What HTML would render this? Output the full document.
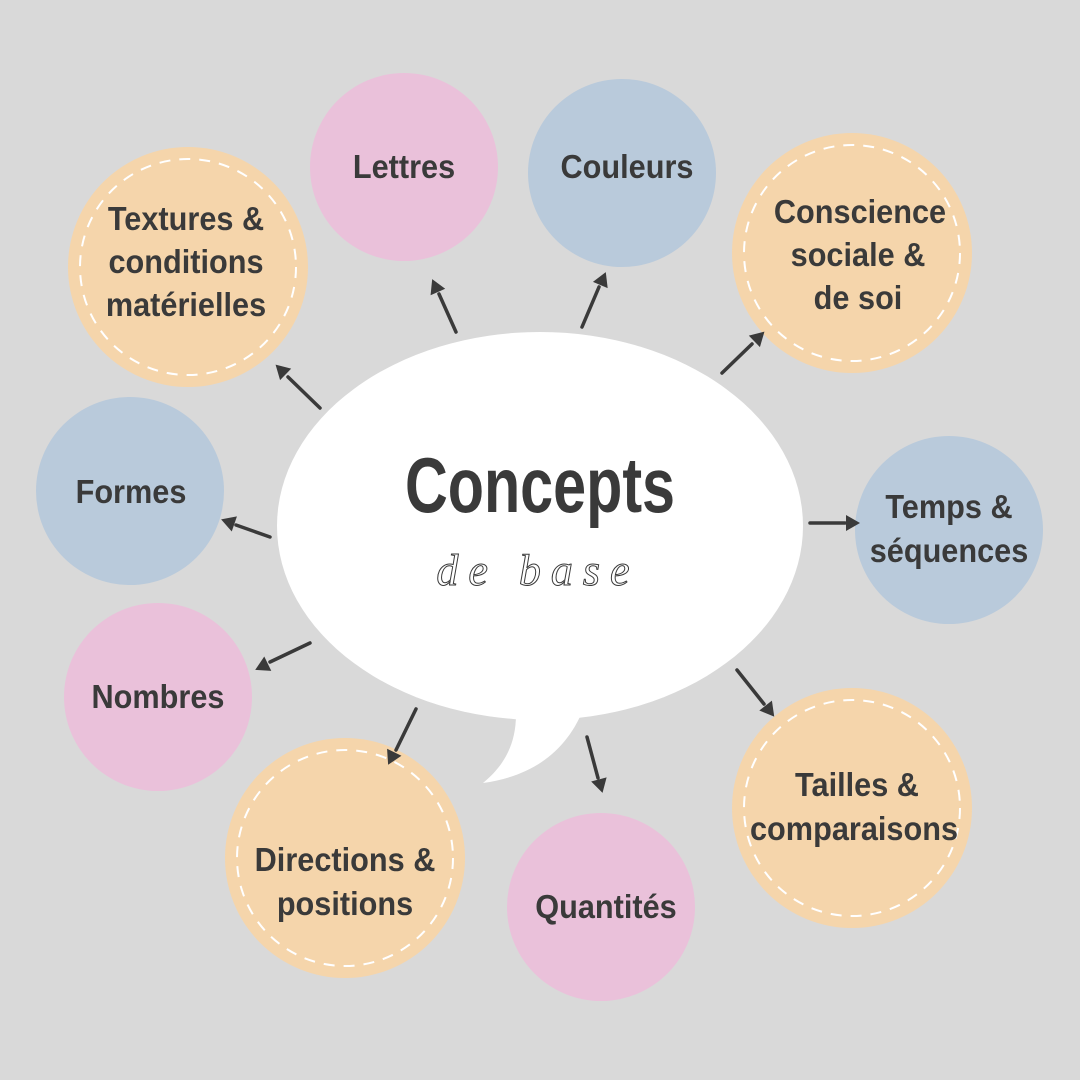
<!DOCTYPE html>
<html><head><meta charset="utf-8"><style>
html,body{margin:0;padding:0;background:#d9d9d9}
svg{display:block}
.t{font-family:"Liberation Sans",sans-serif;font-weight:bold;font-size:33px;fill:#3a3a3a;text-anchor:middle}
</style></head><body>
<svg width="1080" height="1080" viewBox="0 0 1080 1080" xmlns="http://www.w3.org/2000/svg">
<rect width="1080" height="1080" fill="#d9d9d9"/>
<ellipse cx="540" cy="526" rx="263" ry="194" fill="#fff"/>
<path d="M515,700 C520,740 505,765 483,783 C540,775 570,745 585,705 Z" fill="#fff"/>
<circle cx="404" cy="167" r="94" fill="#eac1da"/>
<circle cx="622" cy="173" r="94" fill="#b9cadb"/>
<circle cx="188" cy="267" r="120" fill="#f5d5ab"/>
<circle cx="188" cy="267" r="108" fill="none" stroke="#fff" stroke-width="2" stroke-dasharray="11 9"/>
<circle cx="852" cy="253" r="120" fill="#f5d5ab"/>
<circle cx="852" cy="253" r="108" fill="none" stroke="#fff" stroke-width="2" stroke-dasharray="11 9"/>
<circle cx="130" cy="491" r="94" fill="#b9cadb"/>
<circle cx="949" cy="530" r="94" fill="#b9cadb"/>
<circle cx="158" cy="697" r="94" fill="#eac1da"/>
<circle cx="852" cy="808" r="120" fill="#f5d5ab"/>
<circle cx="852" cy="808" r="108" fill="none" stroke="#fff" stroke-width="2" stroke-dasharray="11 9"/>
<circle cx="345" cy="858" r="120" fill="#f5d5ab"/>
<circle cx="345" cy="858" r="108" fill="none" stroke="#fff" stroke-width="2" stroke-dasharray="11 9"/>
<circle cx="601" cy="907" r="94" fill="#eac1da"/>
<g stroke="#3a3a3a" stroke-width="3.5" stroke-linecap="round">
<line x1="456" y1="332" x2="439" y2="294"/>
<line x1="582" y1="327" x2="599" y2="287"/>
<line x1="722" y1="373" x2="752" y2="344"/>
<line x1="320" y1="408" x2="288" y2="377"/>
<line x1="270" y1="537" x2="236" y2="525"/>
<line x1="810" y1="523" x2="845" y2="523"/>
<line x1="310" y1="643" x2="270" y2="662"/>
<line x1="737" y1="670" x2="764" y2="704"/>
<line x1="416" y1="709" x2="396" y2="750"/>
<line x1="587" y1="737" x2="598" y2="778"/>
</g>
<g fill="#3a3a3a">
<polygon points="0,-8 14,0 0,8" transform="translate(433,281) rotate(-114) translate(-12,0)"/>
<polygon points="0,-8 14,0 0,8" transform="translate(605,274) rotate(-67) translate(-12,0)"/>
<polygon points="0,-8 14,0 0,8" transform="translate(763,333) rotate(-44) translate(-12,0)"/>
<polygon points="0,-8 14,0 0,8" transform="translate(277,366) rotate(-136) translate(-12,0)"/>
<polygon points="0,-8 14,0 0,8" transform="translate(223,520) rotate(-161) translate(-12,0)"/>
<polygon points="0,-8 14,0 0,8" transform="translate(858,523) rotate(0) translate(-12,0)"/>
<polygon points="0,-8 14,0 0,8" transform="translate(257,669) rotate(154) translate(-12,0)"/>
<polygon points="0,-8 14,0 0,8" transform="translate(773,715) rotate(52) translate(-12,0)"/>
<polygon points="0,-8 14,0 0,8" transform="translate(389,763) rotate(116) translate(-12,0)"/>
<polygon points="0,-8 14,0 0,8" transform="translate(602,791) rotate(75) translate(-12,0)"/>
</g>
<g class="t">
<text class="t" transform="translate(404,178) scale(0.93,1)">Lettres</text>
<text class="t" transform="translate(627,178) scale(0.93,1)">Couleurs</text>
<text class="t" transform="translate(186,230) scale(0.93,1)">Textures &amp;</text>
<text class="t" transform="translate(186,273) scale(0.93,1)">conditions</text>
<text class="t" transform="translate(186,316) scale(0.93,1)">matérielles</text>
<text class="t" transform="translate(860,223) scale(0.93,1)">Conscience</text>
<text class="t" transform="translate(858,266) scale(0.93,1)">sociale &amp;</text>
<text class="t" transform="translate(858,309) scale(0.93,1)">de soi</text>
<text class="t" transform="translate(131,503) scale(0.93,1)">Formes</text>
<text class="t" transform="translate(949,518) scale(0.93,1)">Temps &amp;</text>
<text class="t" transform="translate(949,562) scale(0.93,1)">séquences</text>
<text class="t" transform="translate(158,708) scale(0.93,1)">Nombres</text>
<text class="t" transform="translate(857,796) scale(0.93,1)">Tailles &amp;</text>
<text class="t" transform="translate(854,840) scale(0.93,1)">comparaisons</text>
<text class="t" transform="translate(345,871) scale(0.93,1)">Directions &amp;</text>
<text class="t" transform="translate(345,915) scale(0.93,1)">positions</text>
<text class="t" transform="translate(606,918) scale(0.93,1)">Quantités</text>
</g>
<text transform="translate(540,512) scale(0.76,1)" style="font-family:'Liberation Sans',sans-serif;font-weight:bold;font-size:78px;fill:#3a3a3a;text-anchor:middle">Concepts</text>
<text x="538" y="585" style="font-family:'Liberation Serif',serif;font-style:italic;font-size:44px;fill:none;stroke:#3a3a3a;stroke-width:1;text-anchor:middle;letter-spacing:10px">de base</text>
</svg>
</body></html>
